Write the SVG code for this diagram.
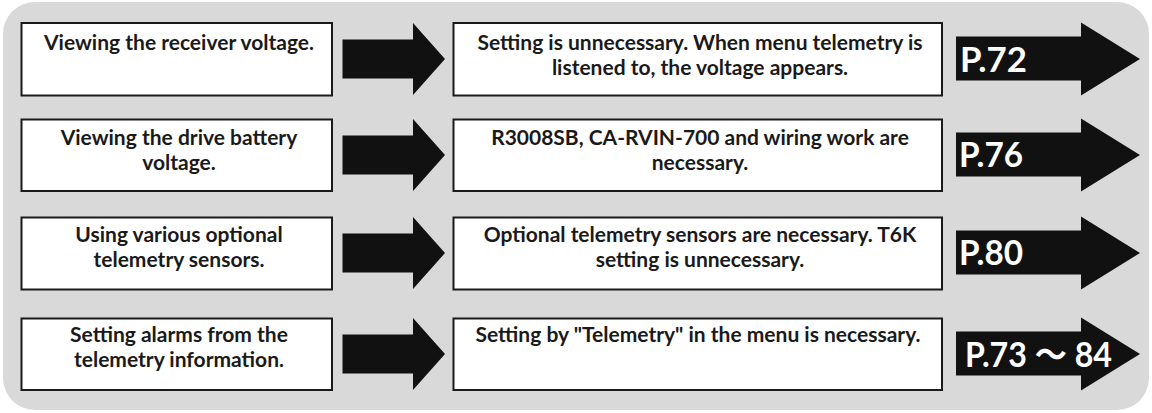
<svg xmlns="http://www.w3.org/2000/svg" width="1152" height="413" viewBox="0 0 1152 413">
  <style>
    .box { fill: #ffffff; stroke: #1a1a1a; stroke-width: 2; }
    .arrow { fill: #111111; }
    .t { font-family: Lato, "Open Sans", "Liberation Sans", sans-serif; font-weight: 700; font-size: 21px; fill: #1a1a1a; text-anchor: middle; }
    .p { font-family: Lato, "Open Sans", "Liberation Sans", "Noto Sans CJK JP", sans-serif; font-weight: 700; font-size: 34px; fill: #ffffff; text-anchor: start; }
  </style>
  <rect x="3" y="2" width="1146" height="408" rx="32" ry="32" fill="#d9d9d9"/>

  <g id="connectors">
    <polygon class="arrow" points="342.5,39.5 413,39.5 413,23 445,59 413,95 413,78.5 342.5,78.5"/>
    <polygon class="arrow" points="342.5,135.5 413,135.5 413,119 445,155 413,191 413,174.5 342.5,174.5"/>
    <polygon class="arrow" points="342.5,233.5 413,233.5 413,217 445,253 413,289 413,272.5 342.5,272.5"/>
    <polygon class="arrow" points="342.5,334.5 413,334.5 413,318 445,354 413,390 413,373.5 342.5,373.5"/>
  </g>

  <g id="left1"><rect class="box" x="21.5" y="23" width="310.5" height="72.5"/><text class="t" x="179" y="49.5">Viewing the receiver voltage.</text></g>
  <g id="left2"><rect class="box" x="21.5" y="119.5" width="310.5" height="71.5"/><text class="t" x="179" y="144.5">Viewing the drive battery</text><text class="t" x="179" y="169.8">voltage.</text></g>
  <g id="left3"><rect class="box" x="21.5" y="217.5" width="310.5" height="72"/><text class="t" x="179" y="241.5">Using various optional</text><text class="t" x="179" y="266.8">telemetry sensors.</text></g>
  <g id="left4"><rect class="box" x="21.5" y="318.5" width="310.5" height="71.5"/><text class="t" x="179" y="342">Setting alarms from the</text><text class="t" x="179" y="367.3">telemetry information.</text></g>

  <g id="mid1"><rect class="box" x="453.5" y="23" width="488.5" height="72.5"/><text class="t" x="700" y="50">Setting is unnecessary. When menu telemetry is</text><text class="t" x="700" y="75.3">listened to, the voltage appears.</text></g>
  <g id="mid2"><rect class="box" x="453.5" y="119.5" width="488.5" height="71.5"/><text class="t" x="700" y="145">R3008SB, CA-RVIN-700 and wiring work are</text><text class="t" x="700" y="170.3">necessary.</text></g>
  <g id="mid3"><rect class="box" x="453.5" y="217.5" width="488.5" height="72"/><text class="t" x="700" y="241.5">Optional telemetry sensors are necessary. T6K</text><text class="t" x="700" y="266.8">setting is unnecessary.</text></g>
  <g id="mid4"><rect class="box" x="453.5" y="318.5" width="488.5" height="71.5"/><text class="t" x="698" y="342">Setting by "Telemetry" in the menu is necessary.</text></g>

  <g id="page1"><polygon class="arrow" points="956,36.5 1081,36.5 1081,22.5 1140,59 1081,95.5 1081,80.5 956,80.5"/><text class="p" x="960" y="71.5" textLength="67" lengthAdjust="spacingAndGlyphs">P.72</text></g>
  <g id="page2"><polygon class="arrow" points="956,132.5 1081,132.5 1081,118.5 1140,155 1081,191.5 1081,176.5 956,176.5"/><text class="p" x="959" y="167" textLength="64" lengthAdjust="spacingAndGlyphs">P.76</text></g>
  <g id="page3"><polygon class="arrow" points="956,230.5 1081,230.5 1081,216.5 1140,253 1081,289.5 1081,274.5 956,274.5"/><text class="p" x="959" y="265" textLength="64" lengthAdjust="spacingAndGlyphs">P.80</text></g>
  <g id="page4"><polygon class="arrow" points="956,331.5 1081,331.5 1081,317.5 1140,354 1081,390.5 1081,375.5 956,375.5"/><text class="p" x="965" y="366.5" textLength="147" lengthAdjust="spacingAndGlyphs">P.73 ～ 84</text></g>
</svg>
